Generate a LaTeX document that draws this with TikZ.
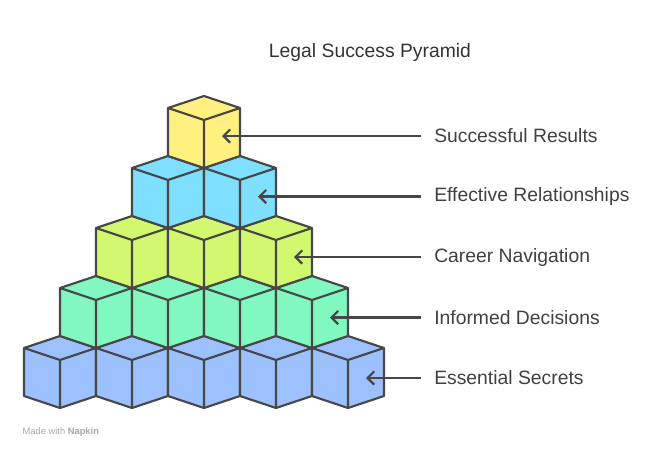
\documentclass[tikz,border=0pt]{standalone}
\usepackage{fontspec}
\setmainfont{Liberation Sans}
\begin{document}
\begin{tikzpicture}[x=0.75pt,y=-0.75pt,
  edge/.style={draw=black!72,line width=1.6pt,line join=round},
  arr/.style={draw=black!72,line width=1.6pt,->,>={Straight Barb[length=5pt,width=10pt]}},
  lbl/.style={anchor=west,inner sep=0pt,text=black!75,font=\fontsize{14.5}{17}\selectfont}]
\usetikzlibrary{arrows.meta}
\useasboundingbox (0,0) rectangle (672,450);
\definecolor{c0}{HTML}{FFF080}
\definecolor{c1}{HTML}{7FDFFF}
\definecolor{c2}{HTML}{D2F870}
\definecolor{c3}{HTML}{80F8C0}
\definecolor{c4}{HTML}{9DC0FF}
\newcommand{\mycube}[3]{%
  \filldraw[edge,fill=#3] (#1,#2) -- (#1+36,#2+12) -- (#1+36,#2+60) -- (#1,#2+72) -- (#1-36,#2+60) -- (#1-36,#2+12) -- cycle;
  \draw[edge] (#1-36,#2+12) -- (#1,#2+24) -- (#1+36,#2+12) (#1,#2+24) -- (#1,#2+72);}
\foreach \k/\c in {4/c4,3/c3,2/c2,1/c1,0/c0}{
  \foreach \j in {0,...,\k}{
    \pgfmathsetmacro{\cx}{204+72*\j-36*\k}
    \pgfmathsetmacro{\cy}{96+60*\k}
    \mycube{\cx}{\cy}{\c}
  }}
\node[font=\fontsize{14.5}{17}\selectfont,text=black!80] (title) at (370,52) {Legal Success Pyramid};
\foreach \i/\t/\x in {0/Successful Results/222,1/Effective Relationships/258,2/Career Navigation/294,3/Informed Decisions/330,4/Essential Secrets/366}{
  \node[lbl] (l\i) at (434,136+60.5*\i) {\t};
  \coordinate (p\i) at (\x,136+60.5*\i);
  \draw[arr] (l\i.west) ++(-13,0) -- (p\i);
}
\node[anchor=west,text=black!35,font=\fontsize{7}{8}\selectfont] (foot) at (18,432) {Made with \textbf{Napkin}};
\end{tikzpicture}
\end{document}
